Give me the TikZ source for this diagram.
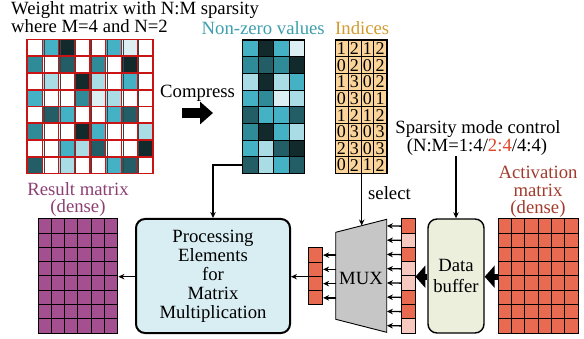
\documentclass[tikz,border=0pt]{standalone}
\usepackage{fontspec}
\setmainfont{Liberation Serif}
\usetikzlibrary{arrows.meta,calc}

% weight shades
\definecolor{cW}{HTML}{FFFFFF}
\definecolor{cV}{HTML}{DCF0F4}
\definecolor{cM}{HTML}{A9DCE4}
\definecolor{cC}{HTML}{44B1C5}
\definecolor{cT}{HTML}{2F8B98}
\definecolor{cD}{HTML}{235D66}
\definecolor{cK}{HTML}{132A2D}
\definecolor{gridred}{HTML}{C81414}
\definecolor{nzlabel}{HTML}{3D9FAE}
\definecolor{idxlabel}{HTML}{D19B2F}
\definecolor{idxfill}{HTML}{FBD49A}
\definecolor{resfill}{HTML}{A44F8F}
\definecolor{reslabel}{HTML}{8B3F73}
\definecolor{cA}{HTML}{E86A50}
\definecolor{cL}{HTML}{F6C8BF}
\definecolor{actlabel}{HTML}{A33B2D}
\definecolor{pefill}{HTML}{D8EEF3}
\definecolor{buffill}{HTML}{EBEFDC}
\definecolor{muxfill}{HTML}{C6C6C6}
\definecolor{modered}{HTML}{E0462B}

\begin{document}
\begin{tikzpicture}[x=1pt,y=-1pt,
  every node/.style={font=\fontsize{18.7}{19}\selectfont},
  txt/.style={inner sep=0pt},
  area/.style={inner sep=0pt,anchor=north west},
  cell/.style={draw=black,line width=0.7pt},
  arr/.style={line width=1.3pt,-{Stealth[length=6pt,width=5.5pt]}},
  bigarr/.style={line width=6pt,-{Triangle[length=10pt,width=22pt]}},
  pebox/.style={draw=black,line width=2pt,rounded corners=9pt,fill=pefill,
    align=center,inner sep=0pt},
  bufbox/.style={draw=black,line width=1.4pt,rounded corners=9pt,fill=buffill,
    align=center,inner sep=0pt,font=\fontsize{18.7}{21}\selectfont}]
\useasboundingbox (0,0) rectangle (584,339);

% ---------- titles ----------
\node[txt,anchor=base west] (title1) at (11,15) {Weight matrix with N:M sparsity};
\node[txt,anchor=base west] (title2) at (11,33) {where M=4 and N=2};
\node[txt,anchor=base west,text=nzlabel] (nzt) at (201.5,34.5) {Non-zero values};
\node[txt,anchor=base west,text=idxlabel] (idxt) at (335,34.5) {Indices};
\node[txt,anchor=base west] (cmpt) at (160,98) {Compress};

% ---------- weight matrix (8x8, groups of 4 per row) ----------
\node[area,minimum width=126pt,minimum height=134pt] (wm) at (27,39.5) {};
\foreach \row [count=\r from 0] in
  {{W,C,K,W,W,C,V,W},{T,W,D,W,T,W,K,W},{W,M,W,K,M,W,C,W},{C,W,W,T,V,M,W,W},
   {W,D,C,W,W,C,D,W},{T,W,W,K,C,W,W,M},{W,W,C,M,D,W,W,K},{D,W,M,W,W,C,D,W}}{
  \foreach \c [count=\k from 0] in \row {
    \fill[c\c] (27+\k*15.75,39.5+\r*16.75) rectangle +(15.75,16.75);
  }
}
\foreach \k in {1,...,7}{
  \draw[black!75,line width=0.6pt] (28.3+\k*15.75,39.5) -- (28.3+\k*15.75,173.5);
}
\foreach \k in {1,2,3,5,6,7}{
  \draw[gridred,line width=0.9pt] (27+\k*15.75,39.5) -- (27+\k*15.75,173.5);
}
\foreach \r in {0,...,7}{
  \draw[gridred,line width=1.6pt] (27,39.5+\r*16.75) rectangle +(63,16.75);
  \draw[gridred,line width=1.6pt] (90,39.5+\r*16.75) rectangle +(63,16.75);
}

% ---------- compress arrow ----------
\coordinate (cmpA) at (182,113);
\coordinate (cmpB) at (213,113);
\draw[line width=10pt,-{Triangle[length=13pt,width=22pt]}] (cmpA) -- (cmpB);

% ---------- non-zero values (8x4) ----------
\node[area,minimum width=62pt,minimum height=133.2pt] (nz) at (242.5,40) {};
\foreach \row [count=\r from 0] in
  {{C,K,C,V},{T,D,T,K},{M,K,M,C},{C,T,V,M},
   {D,C,C,D},{T,K,C,M},{C,M,D,K},{D,M,C,D}}{
  \foreach \c [count=\k from 0] in \row {
    \filldraw[cell,fill=c\c] (242.5+\k*15.5,40+\r*16.65) rectangle +(15.5,16.65);
  }
}
\draw[line width=1pt] (nz.north west) rectangle (nz.south east);
\coordinate (nzlast) at (242.5,165);

% ---------- indices (8x4) ----------
\node[area,minimum width=51.7pt,minimum height=133.2pt] (idx) at (335,40) {};
\foreach \row [count=\r from 0] in
  {{1,2,1,2},{0,2,0,2},{1,3,0,2},{0,3,0,1},
   {1,2,1,2},{0,3,0,3},{2,3,0,3},{0,2,1,2}}{
  \foreach \c [count=\k from 0] in \row {
    \filldraw[cell,fill=idxfill] (335+\k*12.925,40+\r*16.65) rectangle +(12.925,16.65);
    \node[txt,font=\fontsize{18}{18}\selectfont] (d\r\k) at (335+\k*12.925+6.46,40+\r*16.65+8.5) {\c};
  }
}
\draw[line width=1pt] (idx.north west) rectangle (idx.south east);

% ---------- sparsity mode control ----------
\node[txt,anchor=base] (spm1) at (478,134) {Sparsity mode control};
\node[txt,anchor=base] (spm2) at (477,152) {(N:M=1:4/\textcolor{modered}{2:4}/4:4)};

% ---------- labels of dense matrices ----------
\node[txt,align=center,anchor=south,text=reslabel,font=\fontsize{18.7}{17.5}\selectfont]
  (rest) at (78,217) {Result matrix\\(dense)};
\node[txt,align=center,anchor=south,text=actlabel,font=\fontsize{18.7}{17.5}\selectfont]
  (actt) at (538,218) {Activation\\matrix\\(dense)};
\node[txt,anchor=base west] (selt) at (368,200) {select};

% ---------- result matrix (8x6) ----------
\node[area,minimum width=80pt,minimum height=114pt] (res) at (38,219) {};
\foreach \r in {0,...,7}{
  \foreach \k in {0,...,5}{
    \filldraw[cell,line width=1pt,fill=resfill] (38+\k*13.333,219+\r*14.25) rectangle +(13.333,14.25);
  }
}

% ---------- activation matrix (8x6) ----------
\node[area,minimum width=80pt,minimum height=114pt] (act) at (498,219) {};
\foreach \r in {0,...,7}{
  \foreach \k in {0,...,5}{
    \filldraw[cell,line width=1pt,fill=cA] (498+\k*13.333,219+\r*14.25) rectangle +(13.333,14.25);
  }
}

% ---------- processing elements ----------
\node[pebox,minimum width=154pt,minimum height=114pt] (pe) at (213,276)
  {Processing\\Elements\\for\\Matrix\\Multiplication};

% ---------- data buffer ----------
\node[bufbox,minimum width=56pt,minimum height=114pt] (buf) at (456,276) {Data\\buffer};

% ---------- buffered activation column (8 cells) ----------
\node[area,minimum width=14pt,minimum height=114pt] (col) at (401,219) {};
\foreach \c [count=\r from 0] in {A,L,A,L,L,A,A,L}{
  \filldraw[cell,line width=1pt,fill=c\c] (401,219+\r*14.25) rectangle +(14,14.25);
}

% ---------- selected activation column (4 cells) ----------
\node[area,minimum width=14.7pt,minimum height=57pt] (sel) at (308,248) {};
\foreach \r in {0,...,3}{
  \filldraw[cell,line width=1pt,fill=cA] (308,248+\r*14.25) rectangle +(14.7,14.25);
}

% ---------- multiplexer ----------
\node[txt,minimum width=51pt,minimum height=113pt] (mux) at (361.2,276) {};
\draw[fill=muxfill,line width=0.9pt]
  (335.7,232.3) -- (386.7,219.3) -- (386.7,332.3) -- (335.7,319.3) -- cycle;
\node[txt] (muxt) at (361,278) {MUX};
\coordinate (muxtop) at (361.7,225.5);
\coordinate (muxleft) at (336,248);

% ---------- connectors ----------
\foreach \r in {0,...,7}{
  \draw[arr] ($(col.north west)+(0,\r*14.25+7.125)$) -- ($(mux.north east)+(0,\r*14.25+6.625)$);
}
\foreach \r in {0,...,3}{
  \draw[arr] ($(muxleft)+(0,\r*14.25+7.125)$) -- ($(sel.north east)+(0,\r*14.25+7.125)$);
}
\draw[arr] (sel.west) -- (pe.east |- sel.west);
\draw[arr] (pe.west |- sel.west) -- (res.east |- sel.west);
\draw[arr] (nzlast) -| (pe.north);
\draw[arr] (idx.south -| muxtop) -- (muxtop);
\draw[arr] (spm2.south -| buf.north) -- (buf.north);
\draw[bigarr] (buf.west |- sel.west) -- (col.east |- sel.west);
\draw[bigarr] (act.west |- sel.west) -- (buf.east |- sel.west);
\end{tikzpicture}
\end{document}
